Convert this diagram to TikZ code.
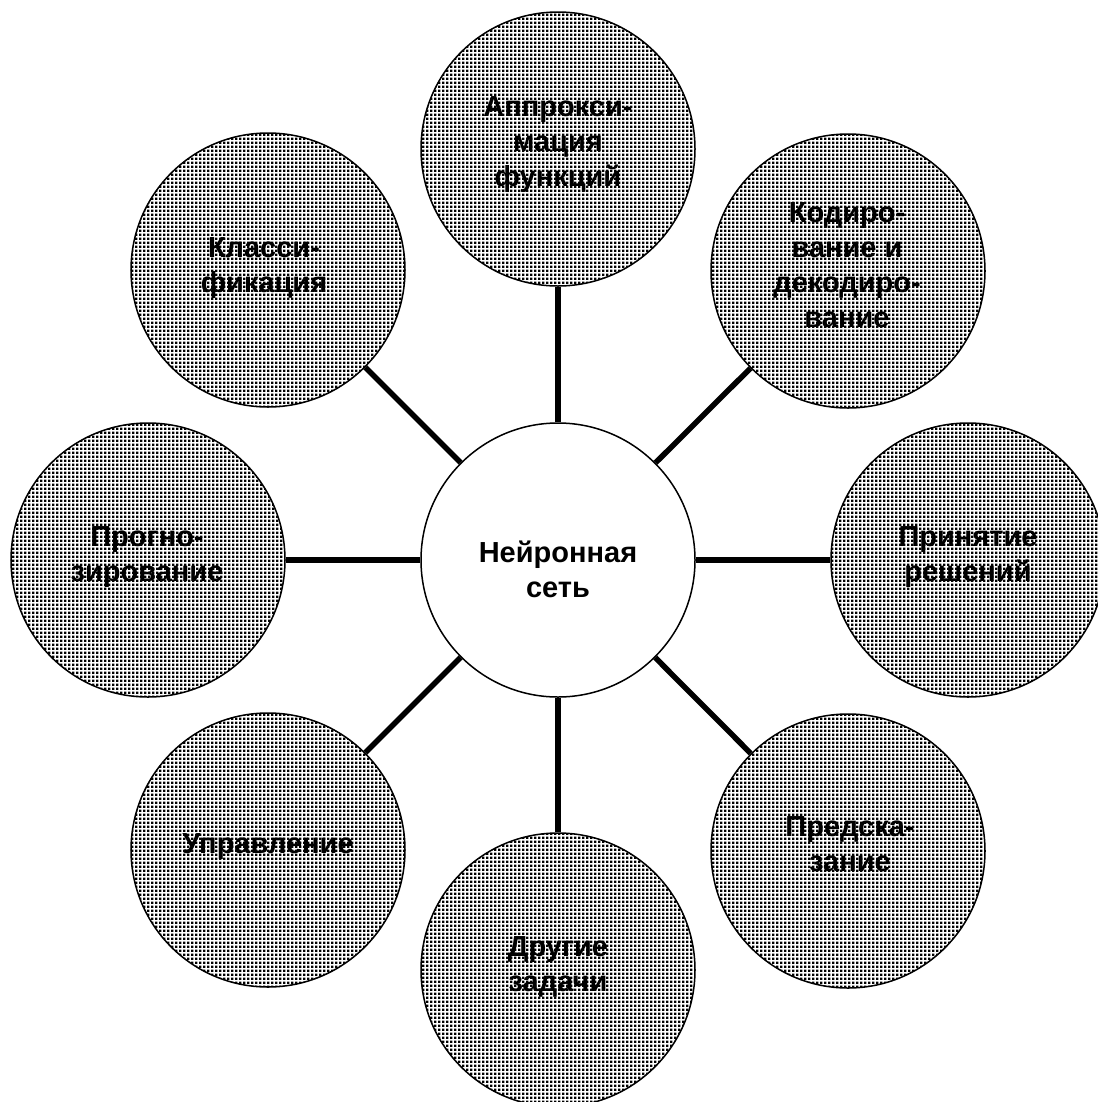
\documentclass[tikz,border=0pt]{standalone}
\usepackage{fontspec}
\setmainfont{Liberation Sans}
\usetikzlibrary{patterns}
\pgfdeclarepatternformonly{griddots}{\pgfpointorigin}{\pgfpoint{4.4bp}{4.4bp}}{\pgfpoint{4.4bp}{4.4bp}}{%
  \pgfpathrectangle{\pgfpointorigin}{\pgfpoint{2.8bp}{2.8bp}}\pgfusepath{fill}}
\begin{document}
\begin{tikzpicture}[x=1bp,y=-1bp,
  bubble/.style={circle,draw=black,line width=1.5bp,minimum size=274bp,inner sep=0pt,pattern=griddots,pattern color=black},
  hub/.style={circle,draw=black,line width=1.5bp,minimum size=274bp,inner sep=0pt,fill=white},
  lbl/.style={align=center,inner sep=0pt,font=\fontsize{29bp}{35bp}\selectfont\bfseries},
  conn/.style={line width=5.5bp,draw=black}]
\useasboundingbox (0,0) rectangle (1098,1102);
\clip (0,0) rectangle (1098,1102);
\fill[white] (0,0) rectangle (1098,1102);
\node[hub] (c) at (558,560) {};
\node[bubble] (t) at (558,149) {};
\node[bubble] (tr) at (848,271) {};
\node[bubble] (r) at (968,560) {};
\node[bubble] (br) at (848,851) {};
\node[bubble] (b) at (558,970) {};
\node[bubble] (bl) at (268,850) {};
\node[bubble] (l) at (148,560) {};
\node[bubble] (tl) at (268,270) {};
\foreach \n in {t,tr,r,br,b,bl,l,tl} \draw[conn] (c) -- (\n);
\node[lbl] (ct) at (558,573) {\strut Нейронная\\\strut сеть};
\node[lbl] (tt) at (558,144.5) {\strut Аппрокси-\\\strut мация\\\strut функций};
\node[lbl] (trt) at (847,268) {\strut Кодиро-\\\strut вание и\\\strut декодиро-\\\strut вание};
\node[lbl] (rt) at (968,556.5) {\strut Принятие\\\strut решений};
\node[lbl] (brt) at (850,846.5) {\strut Предска-\\\strut зание};
\node[lbl] (bt) at (558,966.5) {\strut Другие\\\strut задачи};
\node[lbl] (blt) at (268,846) {\strut Управление};
\node[lbl] (lt) at (147,557) {\strut Прогно-\\\strut зирование};
\node[lbl] (tlt) at (264,267.5) {\strut Класси-\\\strut фикация};
\end{tikzpicture}
\end{document}
